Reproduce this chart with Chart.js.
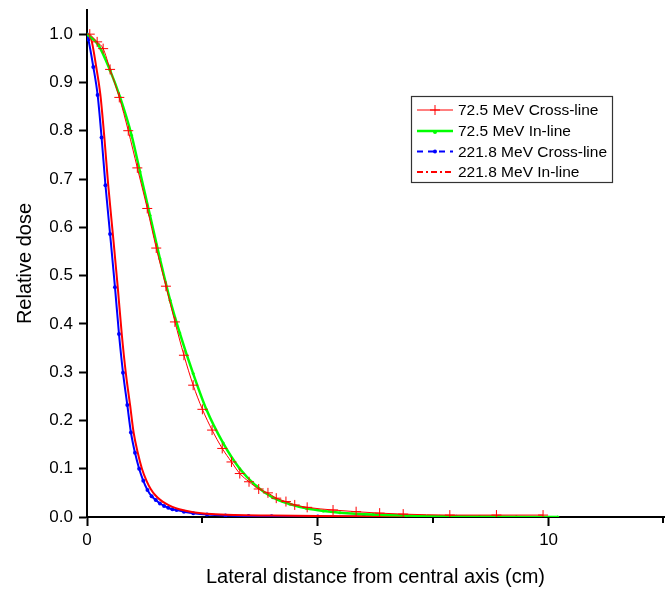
<!DOCTYPE html>
<html>
<head>
<meta charset="utf-8">
<script src="https://cdn.jsdelivr.net/npm/chart.js@4"></script>
<style>
  html, body { margin: 0; padding: 0; background: #fff; }
  #chart { display: block; }
</style>
</head>
<body>
<canvas id="chart" width="670" height="593"></canvas>
<script>
// ---- data ----
const seriesNames = ["72.5 MeV Cross-line", "72.5 MeV In-line", "221.8 MeV Cross-line", "221.8 MeV In-line"];

const crossLow_x = [0.06, 0.22, 0.35, 0.50, 0.70, 0.894, 1.09, 1.305, 1.50, 1.71, 1.905, 2.10, 2.30, 2.50, 2.71, 2.93, 3.13, 3.31, 3.51, 3.72, 3.92, 4.10, 4.31, 4.50, 4.77, 5.33, 5.83, 6.34, 6.85, 7.86, 8.87, 9.88];
const crossLow_y = [1.0, 0.984, 0.97, 0.927, 0.869, 0.80, 0.723, 0.639, 0.557, 0.478, 0.404, 0.335, 0.273, 0.223, 0.18, 0.142, 0.114, 0.09, 0.073, 0.058, 0.05, 0.039, 0.032, 0.025, 0.02, 0.0145, 0.011, 0.008, 0.006, 0.004, 0.004, 0.004];

const inLow_x = [0, 0.25, 0.50, 0.714, 0.967, 1.147, 1.364, 1.58, 1.80, 2.01, 2.30, 2.59, 2.95, 3.31, 3.67, 4.03, 4.39, 4.75, 5.12, 5.48, 6.2, 6.92, 7.64, 8.5, 9.3, 10.2];
const inLow_y = [1.0, 0.977, 0.925, 0.870, 0.79, 0.715, 0.625, 0.535, 0.449, 0.381, 0.297, 0.222, 0.153, 0.10, 0.064, 0.040, 0.027, 0.018, 0.0124, 0.009, 0.005, 0.003, 0.0015, 0.001, 0.0005, 0.0];

const crossHigh_x = [0, 0.03, 0.137, 0.23, 0.316, 0.40, 0.50, 0.606, 0.693, 0.78, 0.873, 0.952, 1.04, 1.13, 1.22, 1.31, 1.40, 1.49, 1.58, 1.67, 1.76, 1.85, 1.94, 2.1, 2.3, 2.6, 3.0, 3.5, 4.0, 5.0, 6.0, 7.0, 8.0, 8.9];
const crossHigh_y = [1.0, 0.989, 0.932, 0.874, 0.786, 0.687, 0.586, 0.476, 0.379, 0.299, 0.232, 0.175, 0.133, 0.10, 0.075, 0.056, 0.043, 0.035, 0.028, 0.023, 0.019, 0.016, 0.0145, 0.011, 0.008, 0.005, 0.003, 0.002, 0.0015, 0.001, 0.001, 0.0005, 0.0005, 0.0];

const inHigh_x = [0, 0.09, 0.20, 0.29, 0.376, 0.46, 0.56, 0.666, 0.753, 0.84, 0.933, 1.01, 1.10, 1.19, 1.29, 1.38, 1.48, 1.58, 1.70, 1.85, 2.0, 2.3, 2.7, 3.2, 4.0, 5.0, 6.0, 7.0, 8.0, 8.9];
const inHigh_y = [1.0, 0.99, 0.932, 0.874, 0.786, 0.687, 0.586, 0.476, 0.379, 0.299, 0.232, 0.175, 0.133, 0.10, 0.075, 0.058, 0.045, 0.036, 0.028, 0.021, 0.016, 0.01, 0.006, 0.004, 0.003, 0.002, 0.0015, 0.001, 0.001, 0.0005];

const xMajorTicks = [0, 5, 10];
const xMinorTicks = [2.5, 7.5, 12.5];
const yTicks = [0, 0.1, 0.2, 0.3, 0.4, 0.5, 0.6, 0.7, 0.8, 0.9, 1.0];

const FONT = "'Liberation Sans', Arial, sans-serif";

function pts(xs, ys) {
  return xs.map((x, i) => ({ x: x, y: ys[i] }));
}

// minor ticks on x axis (shorter) drawn through the scale
const minorTicks = {
  id: "minorTicks",
  afterDraw(chart) {
    const ctx = chart.ctx;
    const xs = chart.scales.x;
    ctx.save();
    ctx.strokeStyle = "#000";
    ctx.lineWidth = 2;
    xMinorTicks.forEach(v => {
      const px = Math.min(Math.round(xs.getPixelForValue(v)), chart.chartArea.right - 1);
      ctx.beginPath();
      ctx.moveTo(px, xs.top);
      ctx.lineTo(px, xs.top + 6);
      ctx.stroke();
    });
    ctx.restore();
  }
};

// boxed legend with line samples, as in the original figure
const boxLegend = {
  id: "boxLegend",
  afterDraw(chart) {
    const ctx = chart.ctx;
    const left = 411, top = 96, w = 201, h = 86;
    const rowY = [110, 131, 151.5, 172];
    const styles = [
      { color: "#ff0000", width: 1, dash: [], marker: "cross" },
      { color: "#00ff00", width: 2.5, dash: [], marker: "dot" },
      { color: "#0000ff", width: 2, dash: [6, 5], marker: "dot" },
      { color: "#ff0000", width: 2, dash: [6, 3, 2, 3], marker: null }
    ];
    ctx.save();
    ctx.fillStyle = "#fff";
    ctx.fillRect(left, top, w, h);
    ctx.strokeStyle = "#333";
    ctx.lineWidth = 1.2;
    ctx.strokeRect(left + 0.5, top + 0.5, w, h);
    styles.forEach((s, i) => {
      const y = rowY[i];
      ctx.strokeStyle = s.color;
      ctx.lineWidth = s.width;
      ctx.setLineDash(s.dash);
      ctx.beginPath();
      ctx.moveTo(417, y);
      ctx.lineTo(453, y);
      ctx.stroke();
      ctx.setLineDash([]);
      if (s.marker === "cross") {
        ctx.lineWidth = 1;
        ctx.beginPath();
        ctx.moveTo(435, y - 5); ctx.lineTo(435, y + 5);
        ctx.moveTo(430, y); ctx.lineTo(440, y);
        ctx.stroke();
      } else if (s.marker === "dot") {
        ctx.fillStyle = s.color;
        ctx.beginPath();
        ctx.arc(435, y + (i === 1 ? 1 : 0), 2, 0, Math.PI * 2);
        ctx.fill();
      }
      ctx.fillStyle = "#000";
      ctx.font = "15.5px " + FONT;
      ctx.textBaseline = "middle";
      ctx.textAlign = "left";
      ctx.fillText(seriesNames[i], 458, y + 1);
    });
    ctx.restore();
  }
};

const ctx = document.getElementById("chart").getContext("2d");

new Chart(ctx, {
  type: "scatter",
  data: {
    datasets: [
      {
        label: seriesNames[0],
        data: pts(crossLow_x, crossLow_y),
        showLine: true,
        borderColor: "#ff0000",
        backgroundColor: "#ff0000",
        borderWidth: 1,
        pointStyle: "cross",
        pointRadius: 5,
        pointBorderWidth: 1,
        cubicInterpolationMode: "monotone",
        order: 1
      },
      {
        label: seriesNames[1],
        data: pts(inLow_x, inLow_y),
        showLine: true,
        borderColor: "#00ff00",
        backgroundColor: "#00ff00",
        borderWidth: 2.5,
        pointRadius: 1.5,
        pointBorderWidth: 0,
        cubicInterpolationMode: "monotone",
        order: 2
      },
      {
        label: seriesNames[2],
        data: pts(crossHigh_x, crossHigh_y),
        showLine: true,
        borderColor: "#0000ff",
        backgroundColor: "#0000ff",
        borderWidth: 2,
        pointRadius: 2,
        pointBorderWidth: 0,
        cubicInterpolationMode: "monotone",
        order: 4
      },
      {
        label: seriesNames[3],
        data: pts(inHigh_x, inHigh_y),
        showLine: true,
        borderColor: "#ff0000",
        backgroundColor: "#ff0000",
        borderWidth: 2,
        pointRadius: 0,
        cubicInterpolationMode: "monotone",
        order: 3
      }
    ]
  },
  options: {
    responsive: false,
    animation: false,
    layout: { padding: { top: 10, right: 1, left: 0, bottom: 0 } },
    plugins: {
      legend: { display: false },
      tooltip: { enabled: false }
    },
    scales: {
      x: {
        type: "linear",
        min: 0,
        max: 12.5,
        afterBuildTicks: (scale) => { scale.ticks = xMajorTicks.map(v => ({ value: v })); },
        afterFit: (scale) => {
          scale.height = 76;
          scale.paddingLeft = 0;
          scale.paddingRight = 0;
        },
        ticks: {
          color: "#000",
          font: { family: FONT, size: 17 },
          padding: 4,
          maxRotation: 0,
          callback: (v) => String(v)
        },
        grid: {
          drawOnChartArea: false,
          drawTicks: true,
          tickLength: 9,
          tickWidth: 2,
          tickColor: "#000"
        },
        border: { display: true, color: "#000", width: 2 },
        title: {
          display: true,
          text: "Lateral distance from central axis (cm)",
          color: "#000",
          font: { family: FONT, size: 20 },
          padding: { top: 0, bottom: 4 }
        }
      },
      y: {
        type: "linear",
        min: 0,
        max: 1.05,
        afterBuildTicks: (scale) => { scale.ticks = yTicks.map(v => ({ value: v })); },
        afterFit: (scale) => {
          scale.width = 87;
          scale.paddingTop = 0;
          scale.paddingBottom = 0;
        },
        ticks: {
          color: "#000",
          font: { family: FONT, size: 17 },
          padding: 6,
          callback: (v) => Number(v).toFixed(1)
        },
        grid: {
          drawOnChartArea: false,
          drawTicks: true,
          tickLength: 8,
          tickWidth: 2,
          tickColor: "#000"
        },
        border: { display: true, color: "#000", width: 2 },
        title: {
          display: true,
          text: "Relative dose",
          color: "#000",
          font: { family: FONT, size: 20 },
          padding: { top: 13, bottom: 0 }
        }
      }
    }
  },
  plugins: [minorTicks, boxLegend]
});
</script>
</body>
</html>
